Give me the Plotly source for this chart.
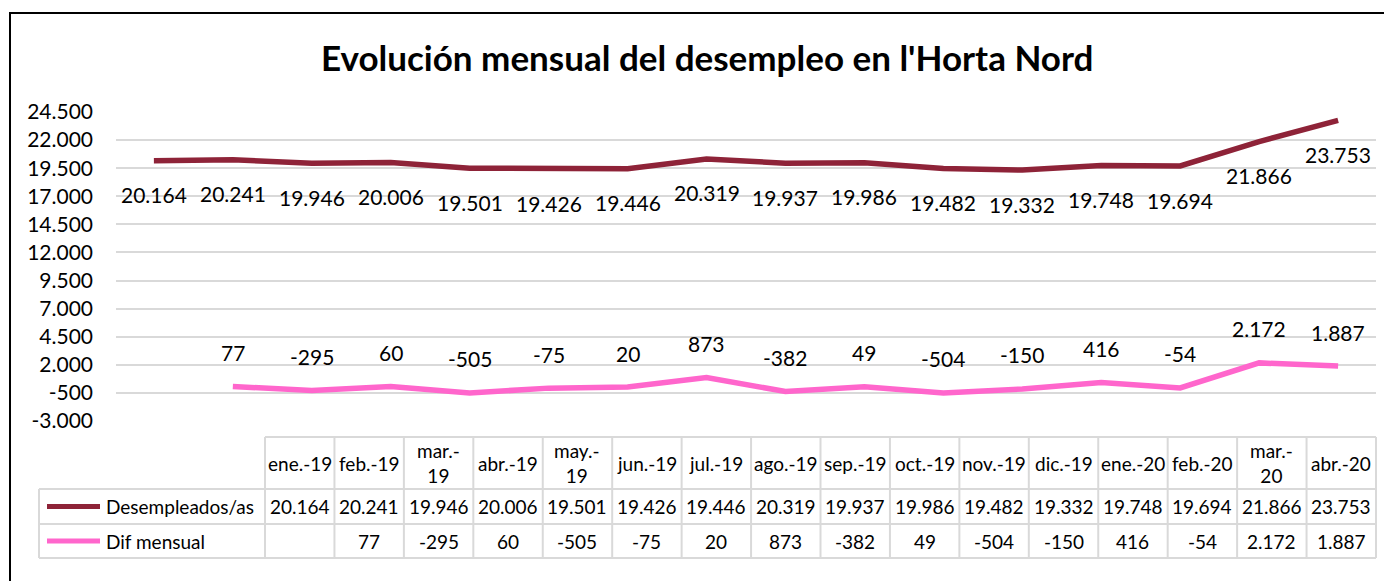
import plotly.graph_objects as go

# ---------------- data ----------------
months = ["ene.-19", "feb.-19", "mar.-19", "abr.-19", "may.-19", "jun.-19", "jul.-19",
          "ago.-19", "sep.-19", "oct.-19", "nov.-19", "dic.-19", "ene.-20", "feb.-20",
          "mar.-20", "abr.-20"]
header_labels = ["ene.-19", "feb.-19", "mar.-<br>19", "abr.-19", "may.-<br>19", "jun.-19", "jul.-19",
                 "ago.-19", "sep.-19", "oct.-19", "nov.-19", "dic.-19", "ene.-20", "feb.-20",
                 "mar.-<br>20", "abr.-20"]
desempleados = [20164, 20241, 19946, 20006, 19501, 19426, 19446, 20319, 19937, 19986,
                19482, 19332, 19748, 19694, 21866, 23753]
dif_mensual = [None, 77, -295, 60, -505, -75, 20, 873, -382, 49, -504, -150, 416, -54,
               2172, 1887]
y_ticks = [-3000, -500, 2000, 4500, 7000, 9500, 12000, 14500, 17000, 19500, 22000, 24500]
series_names = ["Desempleados/as", "Dif mensual"]
series_colors = ["#8E2338", "#FF66CC"]
title = "Evolución mensual del desempleo en l'Horta Nord"

# ---------------- layout geometry ----------------
W, H = 1392, 581
OFF = 8  # page body margin
L, R, T, B = 116 - OFF, W - (1376 - OFF), 112 - OFF, H - (421 - OFF)
FONT = "Lato"


def fmt(v):
    if v is None:
        return ""
    return f"{v:,}".replace(",", ".")


def px(x):
    return (x - OFF - L) / (W - L - R)


def py(y):
    return (H - B - (y - OFF)) / (H - T - B)


idx = list(range(len(months)))
fig = go.Figure()
series = [desempleados, dif_mensual]
for name, vals, col in zip(series_names, series, series_colors):
    fig.add_trace(go.Scatter(x=idx, y=vals, mode="lines", name=name,
                             line=dict(color=col, width=5.5), connectgaps=False,
                             showlegend=False, hoverinfo="skip"))

annotations = []
# data labels
for vals, shift in zip(series, [-34, 34]):
    for i, v in enumerate(vals):
        if v is None:
            continue
        annotations.append(dict(x=i, y=v, xref="x", yref="y", text=fmt(v), showarrow=False,
                                yshift=shift, font=dict(family=FONT, size=21, color="#000")))

# title
annotations.append(dict(x=px(707), y=py(57), xref="paper", yref="paper", text="<b>" + title + "</b>",
                        showarrow=False, xanchor="center", yanchor="middle",
                        font=dict(family=FONT, size=35, color="#000")))

# ---------------- data table ----------------
shapes = []
grid_col = "#D9D9D9"
tx0, tx1 = 265, 1376
lx0 = 39
y_head_top, y_head_bot, y_r1_bot, y_r2_bot = 437, 489, 524, 558
ncol = len(months)
cw = (tx1 - tx0) / ncol


def line(x0, y0, x1, y1, color=grid_col, width=2):
    shapes.append(dict(type="line", xref="paper", yref="paper", x0=px(x0), y0=py(y0),
                       x1=px(x1), y1=py(y1), line=dict(color=color, width=width), layer="above"))


# horizontal lines
line(tx0, y_head_top, tx1, y_head_top)
line(lx0, y_head_bot, tx1, y_head_bot)
line(lx0, y_r1_bot, tx1, y_r1_bot)
line(lx0, y_r2_bot, tx1, y_r2_bot)
# vertical lines
line(lx0, y_head_bot, lx0, y_r2_bot)
for c in range(ncol + 1):
    xx = tx0 + c * cw
    line(xx, y_head_top, xx, y_r2_bot)

row_centers = [(y_head_bot + y_r1_bot) / 2, (y_r1_bot + y_r2_bot) / 2]
for c in range(ncol):
    xc = tx0 + (c + 0.5) * cw
    annotations.append(dict(x=px(xc), y=py((y_head_top + y_head_bot) / 2), xref="paper", yref="paper",
                            text=header_labels[c], showarrow=False, xanchor="center", yanchor="middle",
                            font=dict(family=FONT, size=19, color="#000")))
    for r, vals in enumerate(series):
        annotations.append(dict(x=px(xc), y=py(row_centers[r]), xref="paper", yref="paper",
                                text=fmt(vals[c]), showarrow=False, xanchor="center", yanchor="middle",
                                font=dict(family=FONT, size=19, color="#000")))

# legend keys in table
for r, (name, col) in enumerate(zip(series_names, series_colors)):
    yc = row_centers[r]
    shapes.append(dict(type="line", xref="paper", yref="paper", x0=px(47), x1=px(100),
                       y0=py(yc), y1=py(yc), line=dict(color=col, width=5), layer="above"))
    annotations.append(dict(x=px(104), y=py(yc), xref="paper", yref="paper", text=name,
                            showarrow=False, xanchor="left", yanchor="middle",
                            font=dict(family=FONT, size=19, color="#000")))

# outer border
shapes.append(dict(type="rect", xref="paper", yref="paper", x0=px(10), y0=py(13),
                   x1=px(1420), y1=py(620), line=dict(color="#000", width=2), layer="above"))

fig.update_layout(
    width=W, height=H,
    margin=dict(l=L, r=R, t=T, b=B),
    paper_bgcolor="white", plot_bgcolor="white",
    showlegend=False,
    font=dict(family=FONT, size=20, color="#000"),
    xaxis=dict(range=[-0.48, 15.48], showgrid=False, showticklabels=False, zeroline=False,
               showline=False, ticks=""),
    yaxis=dict(range=[-3000, 24500], tickmode="array", tickvals=y_ticks,
               ticktext=[fmt(v) for v in y_ticks],
               showgrid=True, gridcolor=grid_col, gridwidth=1.5, zeroline=False,
               showline=False, ticks="", tickfont=dict(family=FONT, size=21, color="#000"),
               ticklabelstandoff=22),
    annotations=annotations,
    shapes=shapes,
)

fig.write_html("out.html")
